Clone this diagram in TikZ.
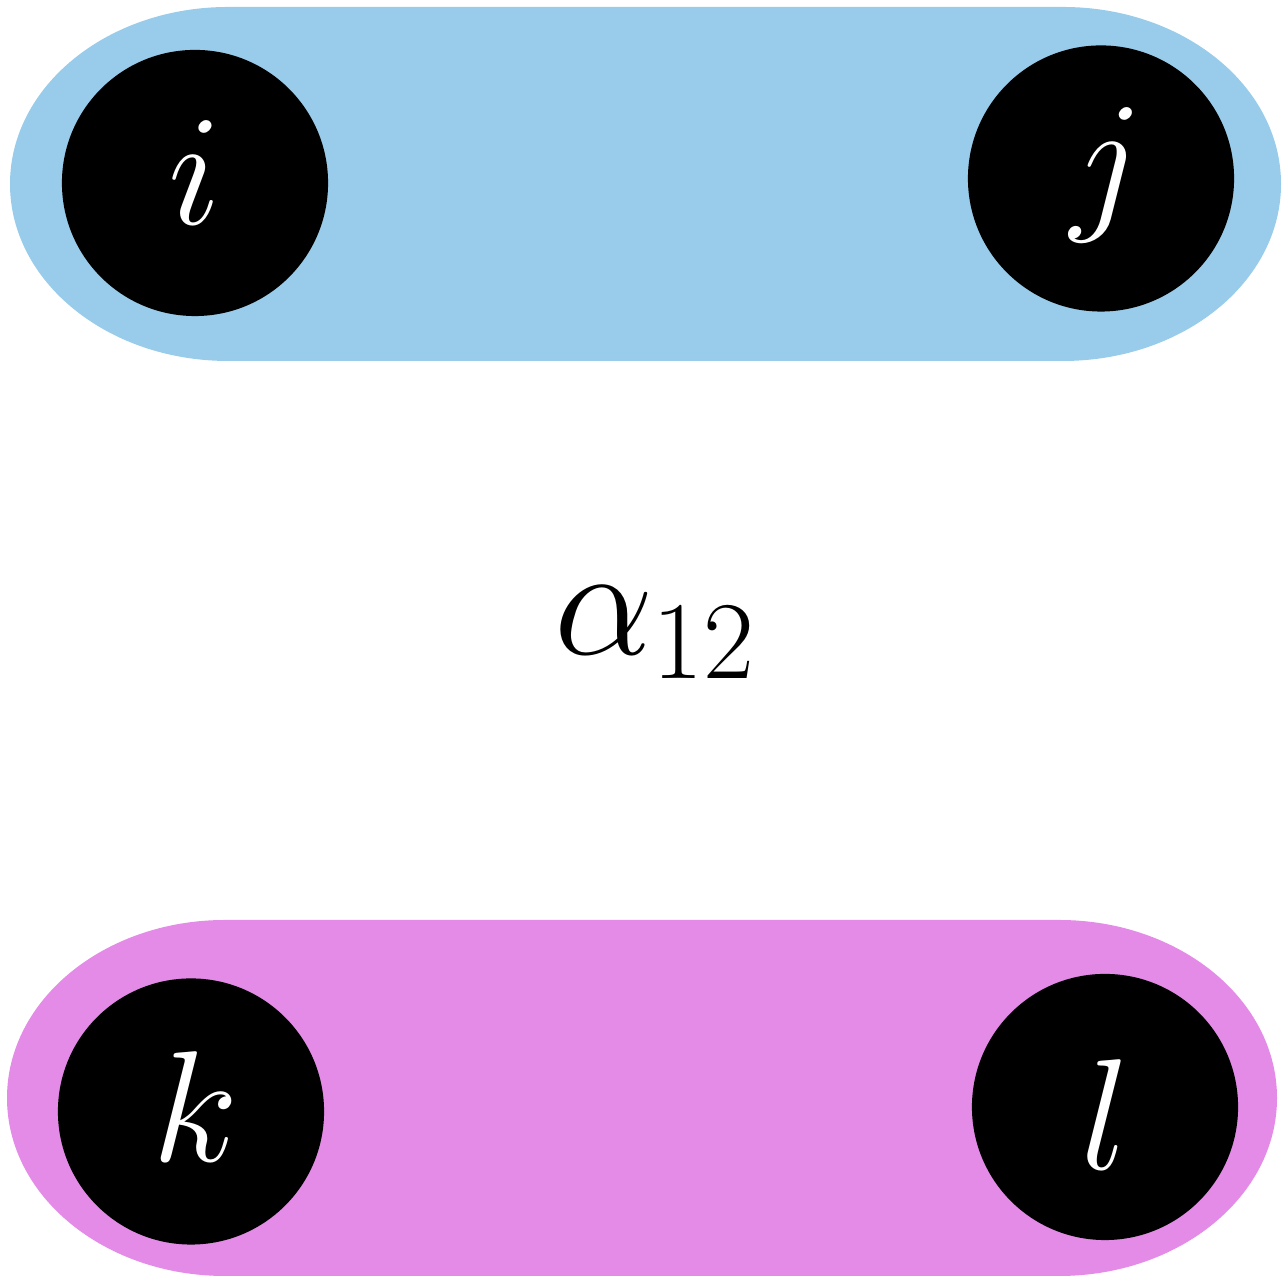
\RequirePackage{fix-cm}
\documentclass[tikz,border=0pt]{standalone}
\definecolor{pillblue}{RGB}{152,204,234}
\definecolor{pillpink}{RGB}{228,139,232}
\newcommand\vlabel[3]{\raisebox{#2}{\kern#1$#3$}}
\tikzset{
  vertex/.style={circle,fill=black,text=white,minimum size=2.66cm,inner sep=0pt,
    text height=0pt,text depth=0pt,font=\fontsize{45}{54}\selectfont},
  biglabel/.style={font=\fontsize{45}{54}\selectfont}
}
\begin{document}
\begin{tikzpicture}[x=0.01cm,y=0.01cm]
\useasboundingbox (0,0) rectangle (1288,1283);
% top pill
\fill[pillblue] (228,1276) -- (1063,1276) arc[start angle=90,end angle=-90,x radius=218,y radius=177] -- (228,922) arc[start angle=-90,end angle=-270,x radius=218,y radius=177] -- cycle;
% bottom pill
\fill[pillpink] (225,363) -- (1059,363) arc[start angle=90,end angle=-90,x radius=218,y radius=178] -- (225,7) arc[start angle=-90,end angle=-270,x radius=218,y radius=178] -- cycle;
\node[vertex] (i) at (195,1100) {\vlabel{0cm}{-0.42cm}{i}};
\node[vertex] (j) at (1101,1104.5) {\vlabel{0.12cm}{-0.335cm}{j}};
\node[vertex] (k) at (191,171.5) {\vlabel{0.08cm}{-0.50cm}{k}};
\node[vertex] (l) at (1105,176) {\vlabel{0cm}{-0.62cm}{l}};
\node[biglabel,anchor=base] (a) at (655,628) {$\alpha_{12}$};
\end{tikzpicture}
\end{document}
